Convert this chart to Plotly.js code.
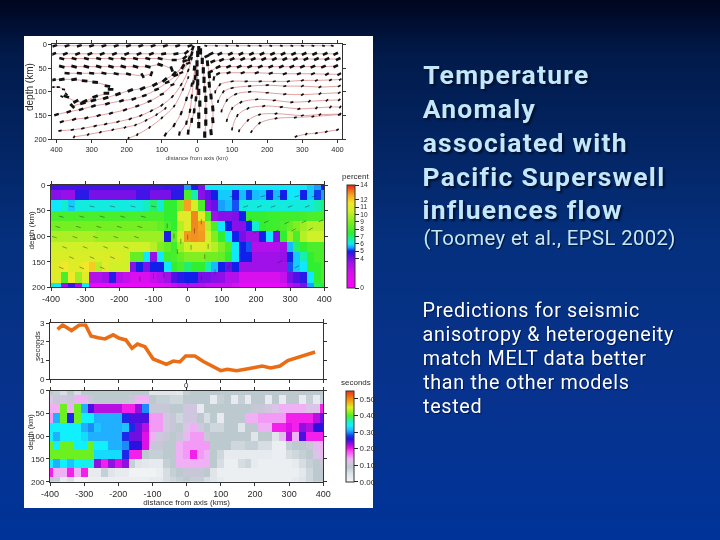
<!DOCTYPE html>
<html><head><meta charset="utf-8">
<script src="https://cdn.plot.ly/plotly-3.0.1.min.js"></script>
<style>
html,body{margin:0;padding:0;width:720px;height:540px;overflow:hidden;
background:linear-gradient(180deg,#00061e 0%,#011a4a 10%,#05307e 45%,#07338f 75%,#003399 100%);}
#c{width:720px;height:540px;}
#c .cartesianlayer{filter:blur(0.55px);}
#c .colorbar{filter:blur(0.35px);}
.annotation[data-index="0"] text,.annotation[data-index="1"] text,.annotation[data-index="2"] text,.annotation[data-index="3"] text,.annotation[data-index="4"] text{letter-spacing:1.25px;}
.annotation[data-index="5"] text{letter-spacing:0.35px;}
.annotation[data-index="6"] text,.annotation[data-index="7"] text,.annotation[data-index="8"] text,.annotation[data-index="9"] text,.annotation[data-index="10"] text{letter-spacing:0.65px;}
</style></head><body><div id="c"></div>
<script>
var cellX=[-400,-380,-360,-340,-320,-300,-280,-260,-240,-220,-200,-180,-160,-140,-120,-100,-80,-60,-40,-20,0,20,40,60,80,100,120,140,160,180,200,220,240,260,280,300,320,340,360,380,400];
var cellDepth=[0,20,40,60,80,100,120,140,160,180,200];

var tempAnomaly=[
[4.6,4.6,4.6,4.6,4.6,4.6,4.6,4.6,4.6,4.6,4.6,4.6,4.6,4.6,4.6,4.6,4.6,4.7,4.7,4.7, 5.5,4.9,4.0,6,6,6,6,6,6,6,6,6,6,6,6,6,6,6,5.8,5.5,5],
[3.8,3.8,3.6,3.6,4.8,4.8,4,4,4,4,4,4,4,4.6,4.6,4,4,4,4.8,4.8, 8,6.5,3.8,4.3,5,5.8,5.8,5,5.7,5.1,5.7,5.8,5,5.7,5,6,6,5,5.8,5.1,5.5],
[6,6,6.3,5.8,6.2,6.2,6.2,6.2,6.2,6.2,6.2,6.2,6.2,6.2,6.4,7,6.3,7.5,7.5,9, 12.7,10.7,8,3.8,4.2,5.5,5.7,5.2,6.2,6.2,6.2,6.2,6.2,6.2,6.2,6.2,6.2,6.2,6.2,6.5,7],
[8,8,8,8,8,8,8,8,8,8,8,8,8,8,8,8,8,7.5,7.5,11, 11,13,11,8,3.5,3.8,3.8,3.9,5,7.6,7.6,7.6,7.7,7.7,7.8,7.8,7.8,7.9,8,8,8],
[8.8,8.8,8.8,8.8,8.8,8.8,8.8,8.8,8.8,8.8,8.8,8.8,8.8,8.8,8.8,8.8,8.5,8,7.5,10, 11,13,12.7,10,8,6,5,3.8,3.8,5,6.3,7.5,7.7,7.8,8,8.5,9,9.5,10,10,10],
[9.8,9.8,9.8,9.8,9.8,9.8,9.8,9.5,9.5,9.5,9.5,9.5,9.5,9.5,9.5,9.5,9.5,4.9,8.5,10.5, 12.8,12.9,12.8,10.5,9,7.5,6,5,4,3.5,3.5,5,6,4,7.5,9.5,8,10,10.5,10.5,10.5],
[10.5,10.5,10.5,10.5,10.5,10.5,10.5,10.5,10.5,10.5,10.5,10.5,10.5,10.5,10.5,10,9,8.5,7.8,9.5, 10.5,11,11,10.5,10,9,8,6,5,5.2,3,3,3,3,3.5,5.7,7,7.5,8,8,8],
[10.8,10.8,10.8,10.8,10.8,10.8,10.8,10.8,10.8,10.8,10.8,10.5,8.5,8.5,6,3.6,6,7.8,8,8.5, 9,9,9,8.7,8.7,8.5,7.5,6,5,5,3.5,3.5,3.5,3.5,3.6,5,5.8,6.5,7.5,8,8],
[11,11,11.5,11,11,11.5,12,10,11,10.5,10.5,10.5,3.8,5,3.9,5,5,6,7.5,8, 7,7.5,7.5,6.5,5.7,5,4.2,5,3.5,3.5,3.5,3.5,3.5,3.5,3.5,5.2,5.8,6,7.5,7.5,8],
[11,11,8,11.5,9.5,11,3,3,3.5,4.8,3,2.5,2,2,2,2.5,3,3.5,4.5,4.8, 5,5,4,4,3.8,3.7,3,3,2,2,2,2,2,2,2.5,4,4.5,4.8,6,7.5,8],
[6.5,6,3.5,4.7,3.2,6,1,1,1,1,1,1,1,1,1,1,1.5,2,2.5,3, 3,3,3,2.5,2.5,2.5,2.5,2,1,1,1,1,1,1,1.5,3,3.5,4,5.5,7,7.5]
];

var travelTime=[
[.09,.08,.06,.09,.06,.09,.09,.09,.09,.09,.09,.09,.09,.09,.09,.05,.05,.05,.05,.04, .08,.09,.09,.09,.09,.09,.09,.09,.09,.09,.09,.09,.09,.09,.09,.09,.09,.09,.09,.09,.09],
[.12,.10,.11,.10,.14,.14,.10,.09,.09,.09,.09,.09,.10,.14,.14,.09,.08,.08,.07,.07, .09,.09,.09,.09,.03,.08,.09,.03,.08,.03,.09,.09,.03,.09,.03,.09,.09,.03,.08,.03,.08],
[.14,.14,.41,.14,.41,.31,.25,.22,.22,.22,.22,.20,.20,.23,.30,.10,.10,.10,.09,.09, .11,.11,.03,.09,.09,.09,.09,.09,.09,.09,.10,.10,.11,.12,.14,.14,.14,.14,.12,.12,.20],
[.15,.31,.41,.27,.41,.34,.34,.31,.31,.31,.31,.27,.25,.25,.25,.15,.15,.11,.10,.07, .11,.11,.09,.06,.09,.03,.09,.09,.09,.14,.14,.15,.15,.15,.15,.20,.20,.20,.20,.22,.24],
[.34,.34,.34,.34,.34,.31,.30,.32,.31,.31,.31,.32,.27,.24,.22,.15,.15,.11,.10,.09, .12,.14,.11,.09,.07,.07,.09,.09,.05,.09,.09,.14,.14,.20,.20,.21,.20,.23,.22,.26,.26],
[.34,.31,.34,.34,.34,.33,.31,.31,.31,.31,.31,.27,.24,.24,.21,.14,.11,.10,.09,.10, .13,.15,.15,.10,.09,.09,.09,.09,.09,.09,.05,.09,.09,.05,.13,.22,.14,.25,.20,.20,.20],
[.41,.34,.41,.41,.34,.34,.41,.34,.34,.31,.31,.30,.26,.26,.21,.10,.10,.09,.09,.14, .15,.15,.15,.15,.09,.09,.09,.07,.07,.08,.08,.06,.06,.02,.02,.08,.09,.09,.10,.13,.14],
[.41,.41,.41,.41,.41,.41,.41,.33,.33,.33,.33,.27,.20,.20,.09,.08,.08,.09,.09,.14, .15,.20,.15,.14,.09,.07,.03,.03,.03,.03,.03,.03,.03,.02,.02,.06,.07,.08,.09,.12,.13],
[.34,.31,.34,.32,.34,.35,.35,.23,.20,.23,.21,.23,.08,.05,.04,.03,.03,.08,.09,.14, .14,.14,.14,.14,.09,.06,.02,.02,.06,.07,.03,.02,.02,.02,.02,.02,.03,.06,.08,.09,.10],
[.20,.14,.14,.20,.14,.20,.03,.03,.08,.05,.03,.03,.01,.01,.01,.01,.02,.06,.08,.09, .10,.10,.10,.09,.05,.02,.02,.02,.02,.02,.02,.02,.02,.02,.02,.02,.02,.04,.07,.09,.09],
[.10,.08,.03,.06,.01,.01,.02,.02,.02,.02,.02,.02,.02,.02,.02,.03,.03,.06,.07,.08, .09,.08,.08,.06,.05,.03,.02,.02,.02,.02,.02,.02,.02,.02,.02,.02,.03,.05,.07,.09,.09]
];

var delayX=[-378,-363,-337,-314,-296,-280,-259,-239,-215,-197,-178,-160,-144,-122,-98,-78,-59,-39,-20,-3,24,49,78,100,119,146,180,200,221,246,273,296,317,341,376];
var delaySec=[2.68,2.91,2.61,2.91,2.91,2.32,2.23,2.16,2.38,2.20,2.11,1.66,1.89,1.75,1.09,.95,.80,.98,.93,1.25,1.25,.95,.64,.46,.54,.46,.57,.63,.71,.61,.71,1.0,1.11,1.25,1.46];

// flow lines: x (km), depth (km), glyph tilt (deg), glyph size
var flowLines=[
{x:[-405,-370,-335,-300,-265,-230,-195,-160,-125,-90,-55,-20],y:[3,3,3,3,3,3,3,3,3,3,3,3],a:-20,s:3.6},
{x:[25,55,85,115,148,180,210,240,270,300,330,360,385],y:[3,3,3,3,3,3,3,3,3,3,3,3,3],a:15,s:2},
{x:[-408,-375,-340,-305,-270,-235,-200,-165,-130,-95,-60,-30,-12],y:[20,20,20,20,20,20,20,20,20,20,20,17,8],a:[-22,-22,-22,-22,-22,-22,-22,-22,-22,-10,-10,-40,-70],s:3.6},
{x:[-385,-350,-315,-280,-245,-210,-175,-140,-105,-65,-35,-15],y:[30,30,30,30,30,30,30,30,30,33,28,20],a:[15,15,15,15,15,15,15,15,15,0,-40,-75],s:3.6},
{x:[-385,-350,-315,-280,-245,-210,-175,-140,-105,-72],y:[47,47,47,47,47,47,47,47,43,52],a:[15,15,15,15,15,15,15,15,20,70],s:4},
{x:[-370,-335,-300,-265,-230,-195,-155,-130],y:[61,61,61,61,62,63,66,62],a:[5,5,5,10,10,15,60,-70],s:3.6},
{x:[-410,-385,-350,-320,-290,-255,-246,-258,-290,-320,-345,-372],y:[75,74,74,77,80,88,95,103,110,120,120,110],a:[-10,-10,-10,5,5,10,0,0,-20,-25,-30,20],s:4},
{x:[-410,-395,-380,-372,-385],y:[90,90,95,105,110],a:[0,0,10,40,30],s:2.2},
{x:[-355,-325,-295,-260,-225,-190,-155,-120,-92,-65,-40,-22],y:[130,124,118,113,105,97,93,85,75,62,47,30],a:[45,-15,-15,-20,-20,-20,-25,-30,-40,-50,-60,-70],s:4},
{x:[-400,-365,-330,-295,-255,-215,-180,-150,-115,-85,-60,-35],y:[148,142,137,130,125,119,115,108,95,80,65,35],a:-20,s:3.4},
{x:[-385,-350,-315,-280,-245,-205,-170,-135,-100,-70,-45,-25],y:[163,158,155,150,145,138,130,120,105,85,60,40],a:-22,s:3},
{x:[-390,-355,-325,-290,-260,-225,-190,-160,-130,-100,-70,-45,-25,-15],y:[182,180,177,172,168,163,157,150,140,128,110,85,55,30],a:[-15,-15,-15,-20,-25,-25,-30,-35,-40,-45,-50,-60,-70,-75],s:2.4},
{x:[-350,-310,-275,-240,-205,-175,-145,-115,-90],y:[195,190,185,180,175,170,160,148,135],a:[-60,-50,-40,-35,-35,-40,-45,-50,-55],s:2},
{x:[-195,-170,-135,-100,-65,-40,-25],y:[198,190,175,155,130,95,70],a:[-75,-65,-55,-55,-60,-65,-75],s:2},
{x:[-90,-65,-45,-30,-15,-5],y:[190,170,145,115,85,50],a:[-60,-65,-70,-75,-80,-85],s:3},
{x:[-50,-30,-20,-15,-10],y:[188,165,140,110,80],a:-80,s:3},
{x:[-25,-15,-8,-3,0,-5,-8],y:[185,160,140,115,90,70,50],a:-85,s:3.6},
{x:[5,5,8,5,2,0,0,2,5],y:[170,150,125,100,80,60,40,20,10],a:90,s:4.4},
{x:[22,25,25,25,22,20,18,15,10],y:[190,165,140,115,95,75,55,35,15],a:90,s:4.4},
{x:[40,45,45,40,35,35,30],y:[185,160,135,110,85,65,40],a:85,s:4.2},
{x:[28,40,65,95,125,155,185,215,245,275,305,335,365,395],y:[25,20,20,20,20,20,20,20,20,20,20,20,20,20],a:-25,s:3.6},
{x:[45,70,100,130,160,190,220,250,280,310,340,370,402],y:[36,33,31,31,31,31,31,31,31,31,31,31,31],a:-25,s:3.6},
{x:[38,60,90,120,150,180,210,240,270,300,330,360,395],y:[58,48,47,47,47,47,47,47,47,47,47,47,46],a:-25,s:3.6},
{x:[48,60,90,130,170,210,250,290,330,370,405],y:[72,62,60,60,60,61,62,62,62,63,63],a:[-80,-30,-20,-20,-20,-20,-20,-20,-25,-30,-30],s:3},
{x:[52,65,100,140,180,220,260,300,340,380,408],y:[100,85,78,78,78,78,78,76,76,75,74],a:[-85,-60,-15,-10,-10,-15,-20,-25,-30,-30,-30],s:2.2},
{x:[60,75,100,150,200,250,300,350,405],y:[120,100,92,88,86,88,88,90,88],a:[-80,-60,-20,-10,-10,-15,-30,-30,-30],s:2.2},
{x:[70,85,110,150,200,250,300,350,405],y:[140,118,105,100,102,105,106,104,102],a:[-80,-65,-30,-10,-10,-15,-35,-35,-35],s:2.2},
{x:[85,100,125,170,220,270,320,370,405],y:[160,135,122,116,118,122,120,118,117],a:[-80,-70,-40,-15,-15,-15,-45,-45,-45],s:2.2},
{x:[100,115,145,190,240,290,340,380,408],y:[178,150,135,130,132,136,134,132,132],a:[-80,-70,-45,-20,-15,-20,-50,-50,-50],s:2.2},
{x:[120,145,178,225,300,350,408],y:[182,160,148,146,150,148,147],a:[-75,-60,-30,-20,-20,-40,-50],s:2},
{x:[155,178,225,280,330,405],y:[184,166,156,154,152,148],a:[-60,-45,-20,-15,-15,-20],s:2},
{x:[282,311,340,368,400],y:[194,189,187,184,180],a:[-30,-50,-30,-30,-30],s:2}
];

// small flow ticks on the velocity panel
var tickX=[-340,-280,-220,-160,-100,-370,-310,-250,-190,-130,-380,-320,-260,-200,-140,-390,-330,-270,-210,-150,-360,-300,-240,-180,-340,-280,-220,-370,-310,-250,-60,-40,-20,0,20,40,60,-30,10,50,-100,-140,-70,0,40,80,120,170,210,250,300,350,180,230,290,340,390,130,220,270,320,370,200,260,310,360,270,320];
var tickDepth=[42,42,42,42,42,62,62,62,62,62,82,82,82,82,82,102,102,102,102,102,122,122,122,122,142,142,142,162,162,162,80,100,110,102,90,72,120,130,122,140,178,184,176,190,182,170,160,42,42,42,42,42,70,72,74,72,70,22,22,22,22,22,92,90,88,86,150,160];
var tickTilt=[12,12,12,12,12,15,15,15,15,15,15,15,15,15,15,18,18,18,18,18,20,20,20,20,22,22,22,22,22,22,90,90,90,90,90,90,90,90,90,90,90,90,90,90,90,90,-60,-20,-20,-20,-20,-20,-25,-25,-25,-25,-25,-15,-15,-15,-15,-15,-30,-30,-30,-30,-30,-30];

var tempStops=[[0,'#ff00ff'],[2,'#d810f0'],[3.5,'#a010e8'],[4.5,'#5010e8'],[5,'#1020e8'],[5.5,'#18a0ff'],[6,'#10e8ff'],[6.6,'#18f0a0'],[7.5,'#30ee30'],[9,'#80ee20'],[10.5,'#d0f028'],[11.5,'#f0e828'],[12.5,'#f8b020'],[13,'#f08820'],[14,'#f02010']];
var timeStops=[[0,'#f4f5f7'],[.05,'#dfe5e9'],[.09,'#bcc9cf'],[.12,'#dcc4e8'],[.14,'#f0b0f6'],[.19,'#f840f0'],[.205,'#f010e8'],[.23,'#9010e0'],[.26,'#2c10e0'],[.28,'#1040f0'],[.31,'#20b0ff'],[.34,'#10f0ff'],[.37,'#20f0c0'],[.40,'#50f020'],[.45,'#e0f020'],[.50,'#f09010'],[.55,'#f03010']];

var tempTicks=[0,4,5,6,7,8,9,10,11,12,14];
var timeTicks=[0,.1,.2,.3,.4,.5];
var timeTickText=['0.00','0.10','0.20','0.30','0.40','0.50'];
var kmTicks=[-400,-300,-200,-100,0,100,200,300,400];
var absKmText=['400','300','200','100','0','100','200','300','400'];
var signedKmText=['-400','-300','-200','-100','0','100','200','300','400'];
var blankKmText=['','','','','','','','',''];
var depthTicks=[0,50,100,150,200];
var secTicks=[0,1,2,3];

var titleLines=['Temperature','Anomaly','associated with','Pacific Superswell','influences flow'];
var citation='(Toomey et al., EPSL 2002)';
var bodyLines=['Predictions for seismic','anisotropy & heterogeneity','match MELT data better','than the other models','tested'];

function norm(st,top){return st.map(function(p){return [p[0]/top,p[1]];});}
function px(v){return v/720;}
function py(v){return 1-v/540;}
var INK='#2a2a2a', tf={family:'Liberation Sans',size:8,color:INK};

function axis(l,r,t,b,extra,dom){
  var o={domain:dom==='x'?[px(l),px(r)]:[py(b),py(t)],showgrid:false,zeroline:false,showline:true,linecolor:'#333',linewidth:1,
    ticks:'outside',ticklen:3,tickwidth:1,tickcolor:'#333',mirror:'ticks',tickfont:tf,fixedrange:true};
  for(var k in extra)o[k]=extra[k];return o;
}
var traces=[];
flowLines.forEach(function(f){
  traces.push({type:'scatter',mode:'lines',x:f.x,y:f.y,xaxis:'x',yaxis:'y',line:{color:'#d98a8a',width:0.8,shape:'spline'},hoverinfo:'skip',showlegend:false});
});
flowLines.forEach(function(f){
  traces.push({type:'scatter',mode:'markers',x:f.x,y:f.y,xaxis:'x',yaxis:'y',hoverinfo:'skip',showlegend:false,
    marker:{symbol:'line-ew',size:f.s,angle:f.a,color:'#111',line:{color:'#111',width:Math.max(1.7,f.s*0.72)}}});
});
traces.push({type:'heatmap',x:cellX,y:cellDepth,z:tempAnomaly,xaxis:'x2',yaxis:'y2',zmin:0,zmax:14,colorscale:norm(tempStops,14),hoverinfo:'skip',
  colorbar:{x:px(346.5),xanchor:'left',xpad:0,ypad:0,y:py(185),yanchor:'top',len:102.5,lenmode:'pixels',thickness:8,thicknessmode:'pixels',
    outlinewidth:1,outlinecolor:'#333',ticks:'outside',ticklen:4,tickcolor:'#222',tickvals:tempTicks,ticktext:tempTicks.map(String),tickfont:{family:'Liberation Sans',size:6.5,color:INK}}});
traces.push({type:'scatter',mode:'markers',x:tickX,y:tickDepth,xaxis:'x2',yaxis:'y2',hoverinfo:'skip',showlegend:false,
  marker:{symbol:'line-ew',size:3.5,angle:tickTilt,color:'#333',line:{color:'rgba(30,40,30,0.55)',width:0.8}}});
traces.push({type:'scatter',mode:'lines',x:delayX,y:delaySec,xaxis:'x3',yaxis:'y3',line:{color:'#ea6c14',width:3.6,shape:'linear'},hoverinfo:'skip',showlegend:false});
traces.push({type:'heatmap',x:cellX,y:cellDepth,z:travelTime,xaxis:'x4',yaxis:'y4',zmin:0,zmax:.55,colorscale:norm(timeStops,.55),hoverinfo:'skip',
  colorbar:{x:px(345.5),xanchor:'left',xpad:0,ypad:0,y:py(390.7),yanchor:'top',len:91,lenmode:'pixels',thickness:8,thicknessmode:'pixels',
    outlinewidth:1,outlinecolor:'#333',ticks:'outside',ticklen:4,tickcolor:'#222',tickvals:timeTicks,ticktext:timeTickText,tickfont:tf}});

var anns=[];
function note(t,x,y,size,color,family,weight,shadow,angle,center){
  var a={xref:'paper',yref:'paper',x:px(x),y:py(y),xanchor:(angle||center)?'center':'left',yanchor:'middle',showarrow:false,text:t,
    font:{family:family,size:size,color:color,weight:weight,shadow:shadow}};
  if(angle)a.textangle=angle;
  anns.push(a);
}
titleLines.forEach(function(t,i){note(t,421+t.length*1.25/2,[75,109,142,176,210][i],26.5,'#c4e8fb','Roboto',700,'2px 2px 2px #00102e');});
note(citation,421+citation.length*0.35/2,238,20.4,'#c4e8fb','Roboto',400,'1px 1px 1px #00102e');
bodyLines.forEach(function(t,i){note(t,421+t.length*0.65/2,[310,334,358,382,406][i],19.8,'#ffffff','Roboto',400,'1px 1px 1px #001a50');});
note('percent',340,176,8,INK,'Liberation Sans',400);
note('seconds',339,382,8,INK,'Liberation Sans',400);
note('0',186.6,385.3,8,INK,'Liberation Sans',400,'none',0,true);
note('depth (km)',30,87,10,INK,'Liberation Sans',400,'none',-90);
note('depth (km)',30.5,230,8,INK,'Liberation Sans',400,'none',-90);
note('seconds',37,346,8,INK,'Liberation Sans',400,'none',-90);
note('depth (km)',30,432,7.5,INK,'Liberation Sans',400,'none',-90);

var small={family:'Liberation Sans',size:8,color:INK};
var layout={width:720,height:540,margin:{l:0,r:0,t:0,b:0},paper_bgcolor:'rgba(0,0,0,0)',plot_bgcolor:'rgba(0,0,0,0)',showlegend:false,
  xaxis:axis(52.3,341.7,44.3,139.3,{anchor:'y',range:[-412,412],tickvals:kmTicks,ticktext:absKmText,tickfont:{family:'Liberation Sans',size:7.5,color:INK},title:{text:'distance from axis (km)',font:{family:'Liberation Sans',size:6,color:'#444'},standoff:2}},'x'),
  yaxis:axis(52.3,341.7,44.3,139.3,{anchor:'x',range:[200,0],tickvals:depthTicks,tickfont:{family:'Liberation Sans',size:7.5,color:INK}},'y'),
  xaxis2:axis(51,324.3,185,287.3,{anchor:'y2',range:[-400,400],tickvals:kmTicks,ticktext:signedKmText,tickfont:{family:'Liberation Sans',size:9,color:INK}},'x'),
  yaxis2:axis(51,324.3,185,287.3,{anchor:'x2',range:[200,0],tickvals:depthTicks,tickfont:small},'y'),
  xaxis3:axis(50,323.3,323.3,379.3,{anchor:'y3',range:[-400,400],tickvals:kmTicks,ticktext:blankKmText},'x'),
  yaxis3:axis(50,323.3,323.3,379.3,{anchor:'x3',range:[0,3],tickvals:secTicks},'y'),
  xaxis4:axis(50,323.3,390.7,481.7,{anchor:'y4',range:[-400,400],tickvals:kmTicks,ticktext:signedKmText,tickfont:{family:'Liberation Sans',size:9,color:INK},title:{text:'distance from axis (kms)',font:{family:'Liberation Sans',size:8,color:INK},standoff:1}},'x'),
  yaxis4:axis(50,323.3,390.7,481.7,{anchor:'x4',range:[200,0],tickvals:depthTicks,tickfont:small},'y'),
  shapes:[{type:'rect',xref:'paper',yref:'paper',x0:px(24),x1:px(373),y0:py(508),y1:py(36),fillcolor:'#ffffff',line:{width:0},layer:'below'}],
  annotations:anns};
Plotly.newPlot('c',traces,layout,{displayModeBar:false,staticPlot:true});
</script></body></html>
